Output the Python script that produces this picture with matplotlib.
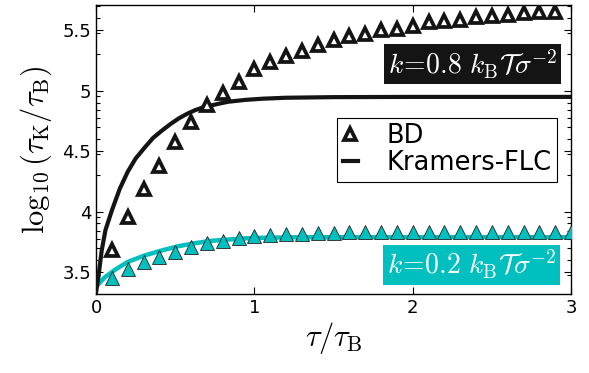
import numpy as np
import matplotlib
matplotlib.use("Agg")
import matplotlib.pyplot as plt
from matplotlib.lines import Line2D

plt.rcParams['mathtext.fontset'] = 'cm'
plt.rcParams['font.family'] = ['DejaVu Sans']

# BD data, k = 0.8
bd08_x = [0.1, 0.2, 0.3, 0.4, 0.5, 0.6, 0.7, 0.8, 0.9, 1.0, 1.1, 1.2, 1.3, 1.4, 1.5,
          1.6, 1.7, 1.8, 1.9, 2.0, 2.1, 2.2, 2.3, 2.4, 2.5, 2.6, 2.7, 2.8, 2.9]
bd08_y = [3.68, 3.96, 4.19, 4.38, 4.58, 4.74, 4.88, 4.98, 5.07, 5.18, 5.24, 5.29, 5.33, 5.38, 5.42,
          5.45, 5.47, 5.50, 5.51, 5.54, 5.57, 5.58, 5.59, 5.61, 5.62, 5.63, 5.64, 5.65, 5.65]

# BD data, k = 0.2
bd02_x = [0.1, 0.2, 0.3, 0.4, 0.5, 0.6, 0.7, 0.8, 0.9, 1.0, 1.1, 1.2, 1.3, 1.4, 1.5,
          1.6, 1.7, 1.8, 1.9, 2.0, 2.1, 2.2, 2.3, 2.4, 2.5, 2.6, 2.7, 2.8, 2.9, 3.0]
bd02_y = [3.456, 3.525, 3.585, 3.63, 3.67, 3.71, 3.74, 3.76, 3.78, 3.80, 3.81, 3.815, 3.82, 3.825, 3.825,
          3.83, 3.83, 3.83, 3.83, 3.83, 3.83, 3.83, 3.83, 3.83, 3.83, 3.83, 3.83, 3.83, 3.83, 3.83]

# Kramers-FLC curves
kr08_x = [0, 0.015, 0.036, 0.06, 0.1, 0.15, 0.2, 0.25, 0.31, 0.36, 0.415, 0.47, 0.52, 0.575,
          0.625, 0.68, 0.73, 0.78, 0.836, 0.94, 1.05, 1.2, 1.5, 2.0, 2.5, 3.0]
kr08_y = [3.33, 3.46, 3.68, 3.85, 4.01, 4.19, 4.33, 4.44, 4.535, 4.61, 4.67, 4.725, 4.77, 4.81,
          4.84, 4.865, 4.88, 4.895, 4.91, 4.925, 4.935, 4.943, 4.948, 4.95, 4.95, 4.95]

kr02_x = [0, 0.057, 0.12, 0.2, 0.31, 0.415, 0.52, 0.625, 0.73, 0.836, 0.94, 1.05, 1.3, 2.0, 3.0]
kr02_y = [3.38, 3.46, 3.52, 3.585, 3.64, 3.68, 3.715, 3.74, 3.76, 3.77, 3.78, 3.785, 3.79, 3.79, 3.79]

yticks = [3.5, 4, 4.5, 5, 5.5]
yticklabels = ['3.5', '4', '4.5', '5', '5.5']
xticks = [0, 1, 2, 3]
xticklabels = ['0', '1', '2', '3']

cyan = '#00bfbf'
black = '#141414'

fig = plt.figure(figsize=(5.89, 3.73), dpi=100)
ax = fig.add_axes([96/589, 79/373, 475/589, 289/373])

ax.plot(kr02_x, kr02_y, color=cyan, lw=3.2, zorder=2)
ax.plot(bd02_x, bd02_y, ls='none', marker='^', ms=9.5, mfc=cyan, mec='#222222', mew=0.6, zorder=3)
ax.plot(kr08_x, kr08_y, color=black, lw=3.0, zorder=4)
ax.plot(bd08_x, bd08_y, ls='none', marker='^', ms=9, mfc='white', mec=black, mew=2.7, zorder=5)

ax.set_xlim(0, 3)
ax.set_ylim(3.32, 5.71)
ax.set_xticks(xticks)
ax.set_xticklabels(xticklabels)
ax.set_yticks(yticks)
ax.set_yticklabels(yticklabels)
minor = [np.log10(m * 10**e) for e in (3, 4, 5) for m in range(2, 10)]
minor = [v for v in minor if 3.32 < v < 5.71]
ax.set_yticks(minor, minor=True)
ax.tick_params(which='both', direction='in', top=True, right=True, labelsize=13, width=0.8)
ax.tick_params(which='major', length=5)
ax.tick_params(which='minor', length=3)
for s in ax.spines.values():
    s.set_linewidth(1.0)

ax.set_xlabel(r'$\tau/\tau_{\rm B}$', fontsize=22, labelpad=2)
ax.set_ylabel(r'$\log_{10}(\tau_{\rm K}/\tau_{\rm B})$', fontsize=22, labelpad=6)

handles = [Line2D([], [], ls='none', marker='^', ms=9, mfc='white', mec=black, mew=2.7),
           Line2D([], [], color=black, lw=3.0)]
leg = ax.legend(handles, ['BD', 'Kramers-FLC'], loc='upper right', bbox_to_anchor=(0.9705, 0.609),
                borderaxespad=0, fontsize=18.5, fancybox=False, framealpha=1, edgecolor='black',
                handlelength=0.62, handletextpad=1.1, borderpad=0.2, labelspacing=0.05)
leg.get_frame().set_linewidth(0.8)

ax.text(0.7926, 0.796, r'$k\!=\!0.8\ k_{\rm B}\mathcal{T}\sigma^{-2}$', transform=ax.transAxes,
        ha='center', va='center', fontsize=20, color='white', zorder=6,
        bbox=dict(boxstyle='square,pad=0.12', fc=black, ec='none'))
ax.text(0.7905, 0.102, r'$k\!=\!0.2\ k_{\rm B}\mathcal{T}\sigma^{-2}$', transform=ax.transAxes,
        ha='center', va='center', fontsize=20, color='white', zorder=6,
        bbox=dict(boxstyle='square,pad=0.12', fc=cyan, ec='none'))

fig.savefig('out.png', dpi=100)
